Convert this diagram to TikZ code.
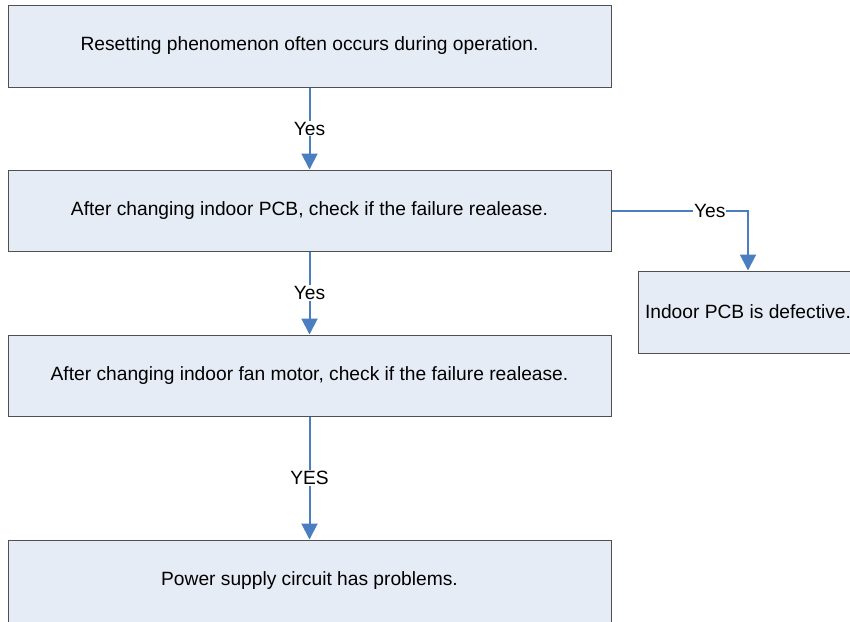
\documentclass[tikz,border=0pt]{standalone}
\usepackage{fontspec}
\setmainfont{Liberation Sans}
\usetikzlibrary{arrows.meta}
\definecolor{boxfill}{RGB}{230,236,246}
\definecolor{boxline}{RGB}{80,80,80}
\definecolor{arrblue}{RGB}{74,126,193}
\tikzset{
  flowbox/.style={draw=boxline, line width=1pt, fill=boxfill, rectangle, inner sep=0pt,
    font=\fontsize{19.2}{23}\selectfont},
  arr/.style={draw=arrblue, line width=2pt, -{Triangle[width=16pt,length=16pt]}},
  lbl/.style={fill=white, inner sep=1pt, text=black, font=\fontsize{19.2}{23}\selectfont}
}
\begin{document}
\begin{tikzpicture}[x=1pt,y=-1pt]
\useasboundingbox (0,0) rectangle (850,621);
\clip (0,0) rectangle (850,621);
\node[flowbox, minimum width=603pt, minimum height=82pt] (b1) at (309.5,46) {Resetting phenomenon often occurs during operation.};
\node[flowbox, minimum width=603pt, minimum height=81pt] (b2) at (309.5,210.5) {After changing indoor PCB, check if the failure realease.};
\node[flowbox, minimum width=603pt, minimum height=81pt] (b3) at (309.5,375.5) {After changing indoor fan motor, check if the failure realease.};
\node[flowbox, minimum width=603pt, minimum height=82pt] (b4) at (309.5,581) {Power supply circuit has problems.};
\node[flowbox, minimum width=220pt, minimum height=82pt] (b5) at (748,312) {Indoor PCB is defective.};
\draw[arr] (b1.south) -- node[lbl]{Yes} (b2.north);
\draw[arr] (b2.south) -- node[lbl]{Yes} (b3.north);
\draw[arr] (b3.south) -- node[lbl]{YES} (b4.north);
\draw[arr] (b2.east) -- node[lbl, pos=0.72]{Yes} (b2.east -| b5.north) -- (b5.north);
\end{tikzpicture}
\end{document}
